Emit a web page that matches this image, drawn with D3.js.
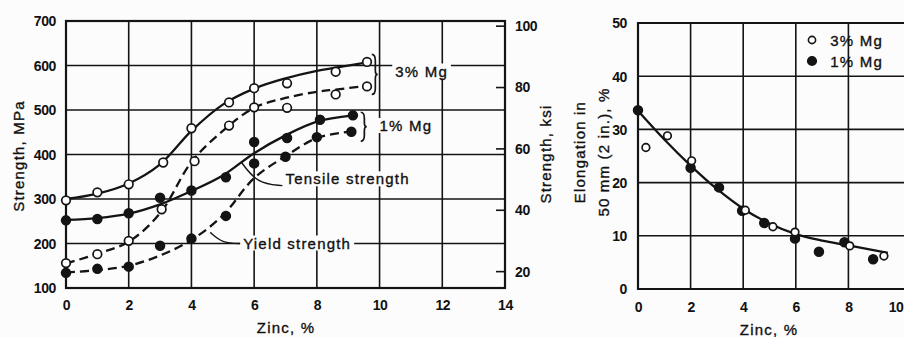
<!DOCTYPE html>
<html>
<head>
<meta charset="utf-8">
<script src="https://cdn.jsdelivr.net/npm/d3@7"></script>
<style>
  html, body { margin: 0; padding: 0; background: #fcfcfc; }
  svg { display: block; }
  .lbl { font-family: "Liberation Sans", Arial, sans-serif; font-size: 15px; letter-spacing: 1.2px; fill: #111; stroke: #111; stroke-width: 0.35px; }
  .tick { font-family: "Liberation Sans", Arial, sans-serif; font-size: 14px; font-weight: bold; letter-spacing: -0.4px; fill: #111; }
</style>
</head>
<body>
<svg id="chart" width="904" height="337"></svg>
<script>
// ---- Strength vs zinc (left panel) ----
// Measured points, 3% Mg (open circles)
const zincTensile3 = [0, 1, 2, 3.1, 4, 5.2, 6, 7.05, 8.6, 9.6];
const tensile3     = [297, 315, 333, 382, 459, 517, 549, 560, 586, 608];
const zincYield3   = [0, 1, 2, 3.05, 4.1, 5.2, 6, 7.05, 8.6, 9.6];
const yield3       = [156, 176, 206, 277, 385, 465, 506, 505, 535, 553];
// Measured points, 1% Mg (filled circles)
const zincTensile1 = [0, 1, 2, 3, 4, 5.1, 6, 7.05, 8.1, 9.15];
const tensile1     = [252, 255, 268, 303, 319, 349, 428, 437, 478, 488];
const zincYield1   = [0, 1, 2, 3, 4, 5.1, 6, 7, 8, 9.1];
const yield1       = [134, 143, 148, 195, 211, 262, 380, 395, 439, 451];
// Fitted trend curves
const fitZinc3      = [0, 1, 2, 3, 4, 5, 6, 7, 8, 8.6, 9.6];
const fitTensile3   = [300, 312, 335, 378, 453, 512, 548, 571, 588, 595, 607];
const fitYield3     = [155, 177, 204, 268, 383, 453, 505, 527, 541, 546, 554];
const fitZincT1     = [0, 1, 2, 3, 4, 5, 6, 7, 8, 9.15];
const fitTensile1   = [253, 257, 267, 288, 318, 353, 403, 443, 474, 488];
const fitZincY1     = [0, 1, 2, 3, 4, 5, 6, 7, 8, 9.1];
const fitYield1     = [135, 140, 150, 173, 208, 263, 347, 396, 437, 452];

const zincTicksL = [0, 2, 4, 6, 8, 10, 12, 14];
const mpaTicks   = [100, 200, 300, 400, 500, 600, 700];
const ksiTicks   = [20, 40, 60, 80, 100];
const MPA_PER_KSI = 6.895;

// ---- Elongation vs zinc (right panel) ----
const zincElong3 = [0.3, 1.12, 2.04, 4.08, 5.13, 5.97, 8.05, 9.35];
const elong3     = [26.6, 28.8, 24.1, 14.8, 11.7, 10.7, 8.1, 6.2];
const zincElong1 = [0, 2.0, 3.08, 3.96, 4.8, 5.97, 6.88, 7.85, 8.94];
const elong1     = [33.6, 22.8, 19.1, 14.7, 12.4, 9.5, 7.0, 8.8, 5.6];
const fitZincE   = [0, 1, 2, 3, 4, 5, 6, 7, 8, 9.5];
const fitElong   = [33.5, 28.1, 23.2, 18.8, 15.1, 12.3, 10.3, 9.1, 8.2, 6.8];
const zincTicksR = [0, 2, 4, 6, 8, 10];
const elongTicks = [0, 10, 20, 30, 40, 50];

const svg = d3.select("#chart");
const ink = "#141414";
const bg = "#fcfcfc";

const zip = (xs, ys) => xs.map((x, i) => [x, ys[i]]);

// ===== Left panel =====
const xL = d3.scaleLinear().domain([0, 14]).range([66, 505]);
const yL = d3.scaleLinear().domain([100, 700]).range([288, 21]);
const yK = d3.scaleLinear().domain([100 / MPA_PER_KSI, 700 / MPA_PER_KSI]).range([288, 21]);

const gL = svg.append("g");

// grid
gL.append("g").selectAll("line").data(zincTicksL.slice(1, -1)).join("line")
  .attr("x1", d => xL(d)).attr("x2", d => xL(d)).attr("y1", yL(700)).attr("y2", yL(100))
  .attr("stroke", ink).attr("stroke-width", 1.6);
gL.append("g").selectAll("line").data(mpaTicks.slice(1, -1)).join("line")
  .attr("x1", xL(0)).attr("x2", xL(14)).attr("y1", d => yL(d)).attr("y2", d => yL(d))
  .attr("stroke", ink).attr("stroke-width", 1.6);

// axes
const axL = d3.axisLeft(yL).tickValues(mpaTicks).tickSize(0).tickPadding(10);
const gAxL = gL.append("g").attr("transform", `translate(${xL(0)},0)`).call(axL);
const axB = d3.axisBottom(xL).tickValues(zincTicksL).tickSize(0).tickPadding(11);
const gAxB = gL.append("g").attr("transform", `translate(0,${yL(100)})`).call(axB);
const axK = d3.axisRight(yK).tickValues(ksiTicks).tickSize(-9).tickPadding(10);
const gAxK = gL.append("g").attr("transform", `translate(${xL(14)},0)`).call(axK);
[gAxL, gAxB, gAxK].forEach(g => {
  g.select(".domain").remove();
  g.selectAll("text").attr("class", "tick").attr("fill", null);
  g.selectAll("line").attr("stroke", ink).attr("stroke-width", 1.6);
});
gAxL.selectAll("text").attr("dy", "0.35em");
gAxB.selectAll("text").attr("dy", "0.8em");
gAxK.selectAll("text").attr("dy", "0.35em");

// frame
gL.append("rect").attr("x", xL(0)).attr("y", yL(700)).attr("width", xL(14) - xL(0)).attr("height", yL(100) - yL(700))
  .attr("fill", "none").attr("stroke", ink).attr("stroke-width", 2.2);

// axis titles
gL.append("text").attr("class", "lbl").attr("text-anchor", "middle")
  .attr("transform", "translate(24,156) rotate(-90)").text("Strength, MPa");
gL.append("text").attr("class", "lbl").attr("text-anchor", "middle")
  .attr("transform", "translate(551,154) rotate(-90)").text("Strength, ksi");
gL.append("text").attr("class", "lbl").attr("text-anchor", "middle")
  .attr("x", 286).attr("y", 333).text("Zinc, %");

// curves
const lineL = d3.line().x(d => xL(d[0])).y(d => yL(d[1])).curve(d3.curveCatmullRom.alpha(0.5));
const curves = [
  { pts: zip(fitZinc3, fitTensile3), dash: null },
  { pts: zip(fitZinc3, fitYield3), dash: "9,5" },
  { pts: zip(fitZincT1, fitTensile1), dash: null },
  { pts: zip(fitZincY1, fitYield1), dash: "9,5" }
];
gL.append("g").selectAll("path").data(curves).join("path")
  .attr("d", d => lineL(d.pts)).attr("fill", "none").attr("stroke", ink)
  .attr("stroke-width", 2.3).attr("stroke-dasharray", d => d.dash);

// leader lines
const leader = d3.line().curve(d3.curveBasis);
gL.append("path").attr("d", leader([[xL(5.6), yL(382)], [xL(6.1), yL(335)], [xL(6.9), yL(330)]]))
  .attr("fill", "none").attr("stroke", ink).attr("stroke-width", 1.4);
gL.append("path").attr("d", leader([[xL(4.6), yL(225)], [xL(5.0), yL(200)], [xL(5.6), yL(200)]]))
  .attr("fill", "none").attr("stroke", ink).attr("stroke-width", 1.4);

// labels on a background patch so grid lines break behind them
function patchText(g, x, y, txt, padX) {
  const t = g.append("text").attr("class", "lbl").attr("x", x).attr("y", y).text(txt);
  const b = t.node().getBBox();
  g.insert("rect", () => t.node())
    .attr("x", b.x - padX).attr("y", b.y + 1).attr("width", b.width + 2 * padX).attr("height", b.height - 2)
    .attr("fill", bg);
}
patchText(gL, xL(7.0), yL(333), "Tensile strength", 2);
patchText(gL, xL(5.65), yL(200) + 5, "Yield strength", 3);
patchText(gL, xL(10.5), yL(600) + 11, "3% Mg", 3);
patchText(gL, xL(10.0), yL(500) + 21, "1% Mg", 3);

// curly braces grouping the end of each alloy's curves
function brace(g, x, y0, y1, w) {
  const m = (y0 + y1) / 2;
  const p = d3.path();
  p.moveTo(x, y0);
  p.quadraticCurveTo(x + w * 0.6, y0, x + w * 0.6, y0 + 6);
  p.lineTo(x + w * 0.6, m - 4);
  p.quadraticCurveTo(x + w * 0.6, m, x + w, m);
  p.quadraticCurveTo(x + w * 0.6, m, x + w * 0.6, m + 4);
  p.lineTo(x + w * 0.6, y1 - 6);
  p.quadraticCurveTo(x + w * 0.6, y1, x, y1);
  g.append("path").attr("d", p.toString()).attr("fill", "none").attr("stroke", ink).attr("stroke-width", 1.7);
}
brace(gL, xL(9.75), yL(625), yL(535), 6);
brace(gL, xL(9.4), yL(495), yL(430), 6);

// markers
function markers(g, pts, filled, r, xs, ys) {
  g.append("g").selectAll("circle").data(pts).join("circle")
    .attr("cx", d => xs(d[0])).attr("cy", d => ys(d[1])).attr("r", r)
    .attr("fill", filled ? ink : "#fff").attr("stroke", ink).attr("stroke-width", 1.7);
}
markers(gL, zip(zincTensile3, tensile3), false, 4.3, xL, yL);
markers(gL, zip(zincYield3, yield3), false, 4.3, xL, yL);
markers(gL, zip(zincTensile1, tensile1), true, 4.4, xL, yL);
markers(gL, zip(zincYield1, yield1), true, 4.4, xL, yL);

// ===== Right panel =====
const xR = d3.scaleLinear().domain([0, 10]).range([638, 901]);
const yR = d3.scaleLinear().domain([0, 50]).range([289, 23]);
const gR = svg.append("g");

gR.append("g").selectAll("line").data(zincTicksR.slice(1, -1)).join("line")
  .attr("x1", d => xR(d)).attr("x2", d => xR(d)).attr("y1", yR(50)).attr("y2", yR(0))
  .attr("stroke", ink).attr("stroke-width", 1.6);
gR.append("g").selectAll("line").data(elongTicks.slice(1, -1)).join("line")
  .attr("x1", xR(0)).attr("x2", 904).attr("y1", d => yR(d)).attr("y2", d => yR(d))
  .attr("stroke", ink).attr("stroke-width", 1.6);

const axRL = d3.axisLeft(yR).tickValues(elongTicks).tickSize(0).tickPadding(11);
const gAxRL = gR.append("g").attr("transform", `translate(${xR(0)},0)`).call(axRL);
const axRB = d3.axisBottom(xR).tickValues(zincTicksR).tickSize(0).tickPadding(12);
const gAxRB = gR.append("g").attr("transform", `translate(0,${yR(0)})`).call(axRB);
[gAxRL, gAxRB].forEach(g => {
  g.select(".domain").remove();
  g.selectAll("text").attr("class", "tick").attr("fill", null);
});
gAxRL.selectAll("text").attr("dy", "0.35em");
gAxRB.selectAll("text").attr("dy", "0.8em");
// last zinc label sits against the right edge of the page
gAxRB.selectAll(".tick").filter(d => d === 10).select("text").attr("text-anchor", "end").attr("x", 903 - xR(10));

// frame (left, top, bottom edges)
gR.append("path").attr("d", `M904,${yR(50)}H${xR(0)}V${yR(0)}H904`)
  .attr("fill", "none").attr("stroke", ink).attr("stroke-width", 2.2);

gR.append("text").attr("class", "lbl").attr("text-anchor", "middle")
  .attr("transform", "translate(585,152) rotate(-90)").text("Elongation in");
gR.append("text").attr("class", "lbl").attr("text-anchor", "middle")
  .attr("transform", "translate(609,152) rotate(-90)").text("50 mm (2 in.), %");
gR.append("text").attr("class", "lbl").attr("text-anchor", "middle")
  .attr("x", 769).attr("y", 335).text("Zinc, %");

const lineR = d3.line().x(d => xR(d[0])).y(d => yR(d[1])).curve(d3.curveCatmullRom.alpha(0.5));
gR.append("path").attr("d", lineR(zip(fitZincE, fitElong)))
  .attr("fill", "none").attr("stroke", ink).attr("stroke-width", 2.3);

markers(gR, zip(zincElong1, elong1), true, 4.4, xR, yR);
markers(gR, zip(zincElong3, elong3), false, 3.8, xR, yR);

// legend
const legend = [{ name: "3% Mg", filled: false }, { name: "1% Mg", filled: true }];
const lg = gR.append("g").selectAll("g").data(legend).join("g")
  .attr("transform", (d, i) => `translate(0,${40 + i * 21})`);
lg.append("circle").attr("cx", 812).attr("cy", 0).attr("r", d => d.filled ? 4.3 : 3.6)
  .attr("fill", d => d.filled ? ink : "#fff").attr("stroke", ink).attr("stroke-width", 1.6);
lg.append("text").attr("class", "lbl").attr("x", 883).attr("y", 5.5).attr("text-anchor", "end").text(d => d.name);
</script>
</body>
</html>
